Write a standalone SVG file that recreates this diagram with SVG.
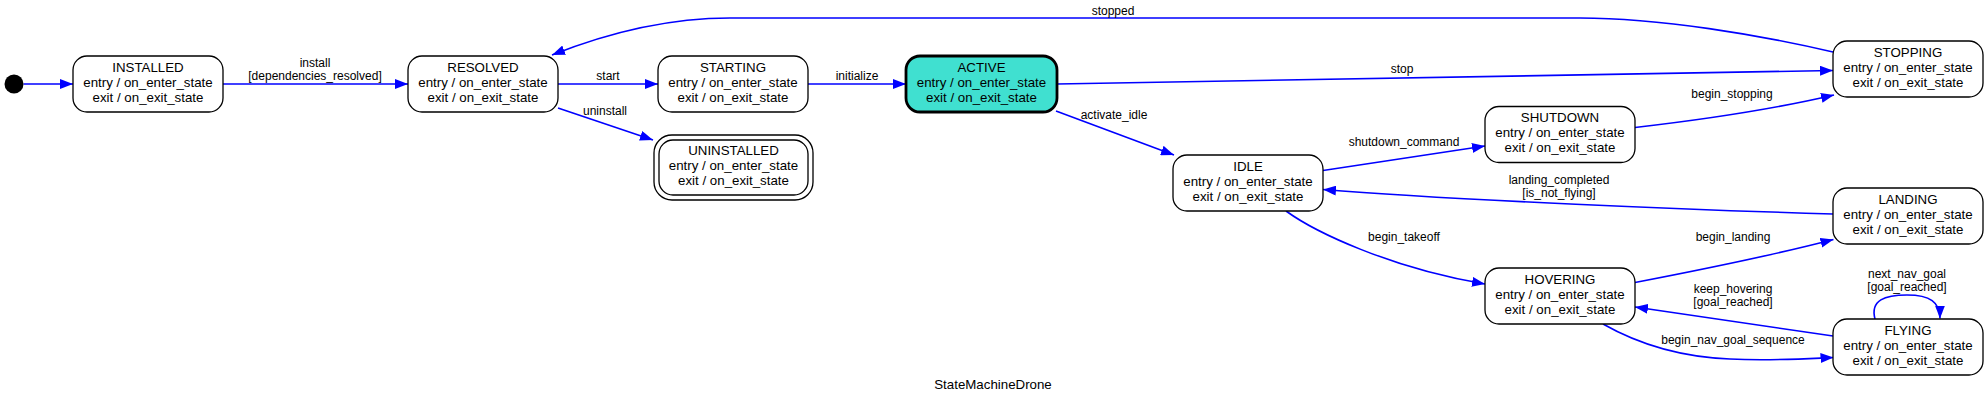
<svg xmlns="http://www.w3.org/2000/svg" width="1988" height="405" viewBox="0 0 1988 405">
<defs>
<marker id="arr" markerUnits="userSpaceOnUse" markerWidth="13" markerHeight="10" refX="13" refY="5" orient="auto">
<path d="M0,0 L13,5 L0,10 z" fill="#0000ff"/>
</marker>
</defs>
<style>
.node rect{fill:#ffffff;stroke:#000000;stroke-width:1.3}
#ACTIVE rect{fill:#40e0d0;stroke-width:2.8}
.t{font-family:"Liberation Sans",Arial,sans-serif;font-size:13.3px;text-anchor:middle;fill:#000}
.el{font-family:"Liberation Sans",Arial,sans-serif;font-size:12px;text-anchor:middle;fill:#000}
.edges path{fill:none;stroke:#0000ff;stroke-width:1.6;marker-end:url(#arr)}
</style>
<rect x="0" y="0" width="1988" height="405" fill="#ffffff"/>

<g id="edges" class="edges">
<path d="M23.5,84 L73,84"/>
<path d="M223,84 L408,84"/>
<path d="M558,84 L658,84"/>
<path d="M808,84 L906,84"/>
<path d="M558,108 L653,140"/>
<path d="M1833,52 C1760,35 1660,18 1580,18 L730,18 C680,18 620,28 552,55"/>
<path d="M1057,84 L1833,70.5"/>
<path d="M1056,111 L1174,155"/>
<path d="M1323,170.5 L1485,146"/>
<path d="M1635,127.5 C1700,120 1770,110 1834,95"/>
<path d="M1833,214 C1700,210 1450,200 1323,189.5"/>
<path d="M1286,211 C1315,232 1390,268 1485,284"/>
<path d="M1635,282.5 C1700,270 1770,256 1833.5,239.5"/>
<path d="M1833,336 L1635,307"/>
<path d="M1603,324 C1640,345 1680,357 1730,359 C1770,361 1800,359 1833.5,357.5"/>
<path d="M1875,319 C1870,300 1885,295 1907,295 C1930,295 1940,302 1940,318.5"/>
</g>

<g id="edge-labels">
<text class="el" x="315" y="67">install</text>
<text class="el" x="315" y="80">[dependencies_resolved]</text>
<text class="el" x="608" y="80">start</text>
<text class="el" x="857" y="80">initialize</text>
<text class="el" x="605" y="115">uninstall</text>
<text class="el" x="1113" y="15">stopped</text>
<text class="el" x="1402" y="73">stop</text>
<text class="el" x="1114" y="119">activate_idle</text>
<text class="el" x="1404" y="146">shutdown_command</text>
<text class="el" x="1732" y="98">begin_stopping</text>
<text class="el" x="1559" y="184">landing_completed</text>
<text class="el" x="1559" y="197">[is_not_flying]</text>
<text class="el" x="1404" y="241">begin_takeoff</text>
<text class="el" x="1733" y="241">begin_landing</text>
<text class="el" x="1733" y="293">keep_hovering</text>
<text class="el" x="1733" y="306">[goal_reached]</text>
<text class="el" x="1733" y="344">begin_nav_goal_sequence</text>
<text class="el" x="1907" y="278">next_nav_goal</text>
<text class="el" x="1907" y="291">[goal_reached]</text>
</g>

<g id="initial"><circle cx="14" cy="84" r="9.5" fill="#000"/></g>

<g id="INSTALLED" class="node"><rect x="73" y="56" width="150" height="56" rx="14"/>
<text class="t" x="148" y="71.5">INSTALLED</text><text class="t" x="148" y="86.5">entry / on_enter_state</text><text class="t" x="148" y="101.5">exit / on_exit_state</text></g>

<g id="RESOLVED" class="node"><rect x="408" y="56" width="150" height="56" rx="14"/>
<text class="t" x="483" y="71.5">RESOLVED</text><text class="t" x="483" y="86.5">entry / on_enter_state</text><text class="t" x="483" y="101.5">exit / on_exit_state</text></g>

<g id="STARTING" class="node"><rect x="658" y="56" width="150" height="56" rx="14"/>
<text class="t" x="733" y="71.5">STARTING</text><text class="t" x="733" y="86.5">entry / on_enter_state</text><text class="t" x="733" y="101.5">exit / on_exit_state</text></g>

<g id="ACTIVE" class="node"><rect x="906" y="56" width="151" height="56" rx="14"/>
<text class="t" x="981.5" y="71.5">ACTIVE</text><text class="t" x="981.5" y="86.5">entry / on_enter_state</text><text class="t" x="981.5" y="101.5">exit / on_exit_state</text></g>

<g id="UNINSTALLED" class="node"><rect x="654" y="135" width="159" height="65" rx="18"/><rect x="659" y="140" width="149" height="55" rx="14"/>
<text class="t" x="733.5" y="155">UNINSTALLED</text><text class="t" x="733.5" y="170">entry / on_enter_state</text><text class="t" x="733.5" y="185">exit / on_exit_state</text></g>

<g id="STOPPING" class="node"><rect x="1833" y="41" width="150" height="56" rx="14"/>
<text class="t" x="1908" y="56.5">STOPPING</text><text class="t" x="1908" y="71.5">entry / on_enter_state</text><text class="t" x="1908" y="86.5">exit / on_exit_state</text></g>

<g id="SHUTDOWN" class="node"><rect x="1485" y="106.5" width="150" height="56" rx="14"/>
<text class="t" x="1560" y="122">SHUTDOWN</text><text class="t" x="1560" y="137">entry / on_enter_state</text><text class="t" x="1560" y="152">exit / on_exit_state</text></g>

<g id="IDLE" class="node"><rect x="1173" y="155" width="150" height="56" rx="14"/>
<text class="t" x="1248" y="170.5">IDLE</text><text class="t" x="1248" y="185.5">entry / on_enter_state</text><text class="t" x="1248" y="200.5">exit / on_exit_state</text></g>

<g id="LANDING" class="node"><rect x="1833" y="188" width="150" height="56" rx="14"/>
<text class="t" x="1908" y="203.5">LANDING</text><text class="t" x="1908" y="218.5">entry / on_enter_state</text><text class="t" x="1908" y="233.5">exit / on_exit_state</text></g>

<g id="HOVERING" class="node"><rect x="1485" y="268" width="150" height="56" rx="14"/>
<text class="t" x="1560" y="283.5">HOVERING</text><text class="t" x="1560" y="298.5">entry / on_enter_state</text><text class="t" x="1560" y="313.5">exit / on_exit_state</text></g>

<g id="FLYING" class="node"><rect x="1833" y="319" width="150" height="56" rx="14"/>
<text class="t" x="1908" y="334.5">FLYING</text><text class="t" x="1908" y="349.5">entry / on_enter_state</text><text class="t" x="1908" y="364.5">exit / on_exit_state</text></g>

<g id="title"><text class="t" x="993" y="389">StateMachineDrone</text></g>
</svg>
